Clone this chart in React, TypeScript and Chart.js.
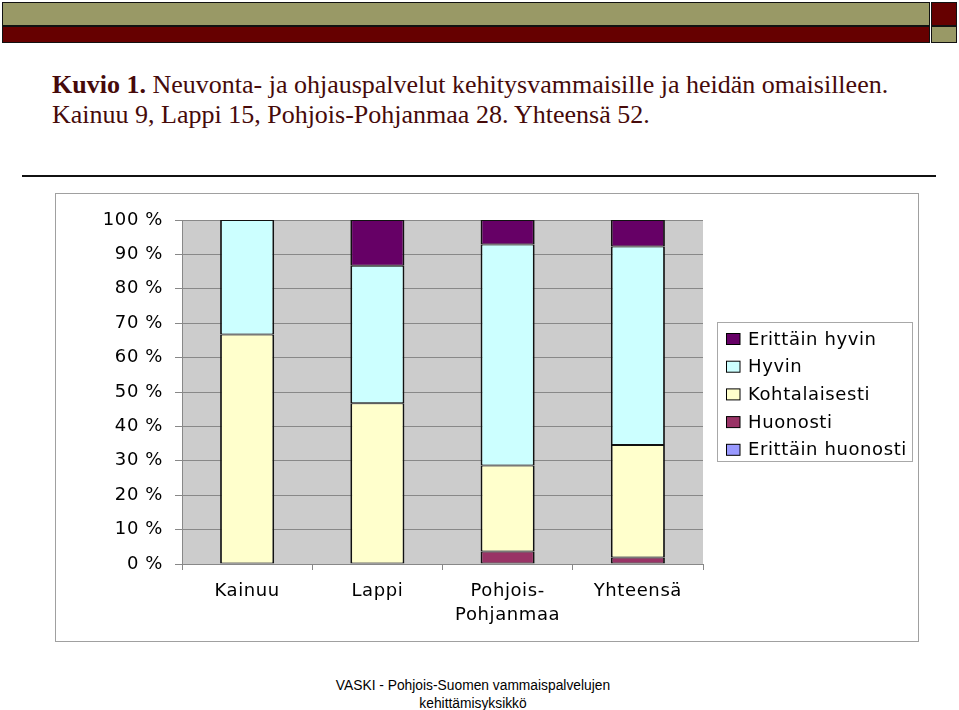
import React, { useEffect, useRef } from "react";
import { Chart, registerables } from "chart.js";

Chart.register(...registerables);

// ---- data ----
const categories: (string | string[])[] = ["Kainuu", "Lappi", ["Pohjois-", "Pohjanmaa"], "Yhteensä"];
const seriesNames = ["Erittäin huonosti", "Huonosti", "Kohtalaisesti", "Hyvin", "Erittäin hyvin"];
const erittainHuonosti = [0, 0, 0, 0];
const huonosti = [0, 0, 3.6, 1.9];
const kohtalaisesti = [66.7, 46.7, 25.0, 32.7];
const hyvin = [33.3, 40.0, 64.3, 57.7];
const erittainHyvin = [0, 13.3, 7.1, 7.7];
const yTickLabels = ["0 %", "10 %", "20 %", "30 %", "40 %", "50 %", "60 %", "70 %", "80 %", "90 %", "100 %"];
const seriesColors = ["#9999FF", "#993366", "#FFFFCC", "#CCFFFF", "#660066"];

const FONT = '"DejaVu Sans", "Liberation Sans", Arial, sans-serif';

const plotBgPlugin = {
  id: "plotBg",
  beforeDraw(chart: any) {
    const { ctx, chartArea } = chart;
    ctx.letterSpacing = "0.6px";
    ctx.save();
    ctx.fillStyle = "#CCCCCC";
    ctx.fillRect(chartArea.left, chartArea.top, chartArea.right - chartArea.left, chartArea.bottom - chartArea.top);
    ctx.restore();
  },
};

const boxLegendPlugin = {
  id: "boxLegend",
  afterDraw(chart: any) {
    const { ctx, chartArea } = chart;
    const left = chartArea.right + 14;
    const top = chartArea.top + 102;
    const width = 196;
    const height = 140;
    ctx.save();
    ctx.letterSpacing = "0.6px";
    ctx.fillStyle = "#ffffff";
    ctx.fillRect(left, top, width, height);
    ctx.strokeStyle = "#a8a8a8";
    ctx.lineWidth = 1;
    ctx.strokeRect(left + 0.5, top + 0.5, width - 1, height - 1);
    const items = chart.data.datasets.map((d: any) => d).reverse();
    items.forEach((ds: any, i: number) => {
      const cy = top + 17 + i * 27.7;
      ctx.fillStyle = ds.backgroundColor;
      ctx.fillRect(left + 9.5, cy - 5.5, 13.5, 11);
      ctx.strokeStyle = "#000";
      ctx.lineWidth = 1;
      ctx.strokeRect(left + 9.5, cy - 5.5, 13.5, 11);
      ctx.fillStyle = "#000";
      ctx.font = `18px ${FONT}`;
      ctx.textBaseline = "middle";
      ctx.textAlign = "left";
      ctx.fillText(ds.label, left + 31, cy + 1);
    });
    ctx.restore();
  },
};

function ChartBox() {
  const ref = useRef<HTMLCanvasElement | null>(null);
  useEffect(() => {
    if (!ref.current) return;
    const values = [erittainHuonosti, huonosti, kohtalaisesti, hyvin, erittainHyvin];
    const chart = new Chart(ref.current, {
      type: "bar",
      data: {
        labels: categories as any,
        datasets: seriesNames.map((name, i) => ({
          label: name,
          data: values[i],
          backgroundColor: seriesColors[i],
          borderColor: "#111111",
          borderWidth: { top: 1, bottom: 1, left: 1.8, right: 1.8 },
          borderSkipped: false,
          inflateAmount: 0,
          categoryPercentage: 1,
          barPercentage: 0.415,
        })),
      },
      options: {
        animation: false,
        responsive: false,
        devicePixelRatio: 1,
        layout: { padding: { top: 26, right: 215, bottom: 0, left: 0 } },
        plugins: {
          legend: { display: false },
          tooltip: { enabled: false },
          title: { display: false },
        },
        scales: {
          x: {
            stacked: true,
            offset: true,
            grid: {
              display: true,
              drawOnChartArea: false,
              drawTicks: true,
              tickLength: 6,
              color: "#888888",
              offset: true,
            },
            border: { display: true, color: "#888888" },
            ticks: {
              color: "#000",
              font: { family: FONT, size: 18, lineHeight: 1.33 },
              padding: 9,
              autoSkip: false,
              maxRotation: 0,
              minRotation: 0,
            },
            afterFit: (s: any) => {
              s.height = 77;
            },
          },
          y: {
            stacked: true,
            min: 0,
            max: 100,
            ticks: {
              stepSize: 10,
              color: "#000",
              font: { family: FONT, size: 18 },
              padding: 12,
              callback: (_v: any, i: number) => yTickLabels[i],
            },
            grid: { color: "#888888", tickLength: 7, drawTicks: true },
            border: { display: true, color: "#888888" },
            afterFit: (s: any) => {
              s.width = 126;
            },
          },
        },
      } as any,
      plugins: [plotBgPlugin, boxLegendPlugin],
    });
    return () => chart.destroy();
  }, []);
  return (
    <canvas
      ref={ref}
      width={862}
      height={447}
      style={{ position: "absolute", left: 0, top: 0, width: 862, height: 447 }}
    />
  );
}

export default function App() {
  const serif = '"Liberation Serif", "Times New Roman", Times, serif';
  const titleColor = "#460a0a";
  return (
    <div
      style={{
        position: "absolute",
        left: 0,
        top: 0,
        width: 959,
        height: 710,
        background: "#ffffff",
        overflow: "hidden",
      }}
    >
      {/* top banner */}
      <div style={{ position: "absolute", left: 2, top: 2, width: 928, height: 24, background: "#999966", border: "1px solid #111", boxSizing: "border-box" }} />
      <div style={{ position: "absolute", left: 2, top: 26, width: 928, height: 17, background: "#660000", border: "1px solid #111", boxSizing: "border-box" }} />
      <div style={{ position: "absolute", left: 931, top: 2, width: 26, height: 24, background: "#660000", border: "1px solid #111", boxSizing: "border-box" }} />
      <div style={{ position: "absolute", left: 931, top: 26, width: 26, height: 17, background: "#999966", border: "1px solid #111", boxSizing: "border-box" }} />

      {/* title */}
      <div
        style={{
          position: "absolute",
          left: 52,
          top: 70,
          width: 900,
          fontFamily: serif,
          fontSize: 26,
          lineHeight: "30px",
          color: titleColor,
          whiteSpace: "nowrap",
        }}
      >
        <div>
          <b>Kuvio 1.</b> Neuvonta- ja ohjauspalvelut kehitysvammaisille ja heidän omaisilleen.
        </div>
        <div>Kainuu 9, Lappi 15, Pohjois-Pohjanmaa 28. Yhteensä 52.</div>
      </div>

      {/* rule */}
      <div style={{ position: "absolute", left: 22, top: 175, width: 914, height: 2, background: "#111" }} />

      {/* chart frame */}
      <div
        style={{
          position: "absolute",
          left: 55,
          top: 193,
          width: 864,
          height: 449,
          border: "1px solid #a0a0a0",
          boxSizing: "border-box",
        }}
      >
        <ChartBox />
      </div>

      {/* footer */}
      <div
        style={{
          position: "absolute",
          left: 273,
          top: 677,
          width: 400,
          textAlign: "center",
          fontFamily: '"Liberation Sans", Arial, sans-serif',
          fontSize: 13.8,
          lineHeight: "17.5px",
          color: "#000",
        }}
      >
        VASKI - Pohjois-Suomen vammaispalvelujen
        <br />
        kehittämisyksikkö
      </div>
    </div>
  );
}
